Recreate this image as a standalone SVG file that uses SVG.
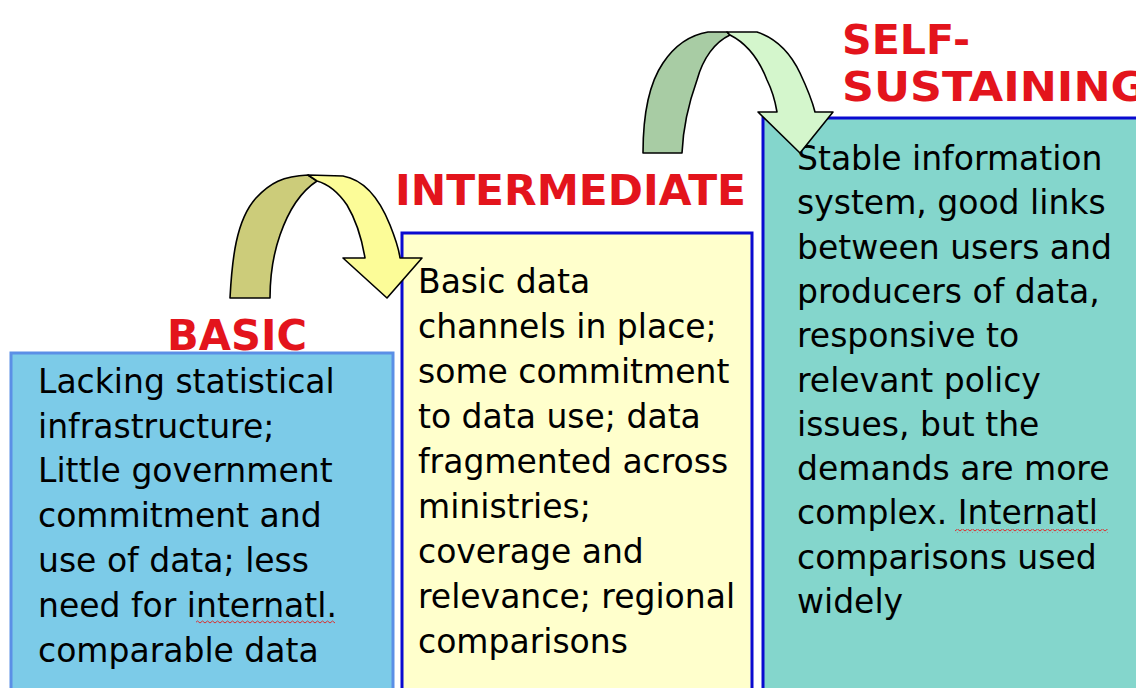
<svg xmlns="http://www.w3.org/2000/svg" width="1136" height="688" viewBox="0 0 1136 688">
<defs>
<style>
.body{font-family:"DejaVu Sans","Liberation Sans",sans-serif;font-size:33px;fill:#000}
.lbl{font-family:"DejaVu Sans","Liberation Sans",sans-serif;font-weight:bold;font-size:43px;fill:#e3141c}
.lbl2{font-family:"DejaVu Sans","Liberation Sans",sans-serif;font-weight:bold;font-size:40px;fill:#e3141c}
.arw{stroke:#000;stroke-width:1.6;stroke-linejoin:round}
</style>
<pattern id="sq" width="5" height="4" patternUnits="userSpaceOnUse"><path d="M0,3 L2.5,1 L5,3" stroke="#d83030" fill="none" stroke-width="1"/></pattern>
</defs>
<rect width="1136" height="688" fill="#ffffff"/>
<g id="basic">
<rect x="11" y="353" width="382" height="350" fill="#7ccbe8" stroke="#5b8fe6" stroke-width="3"/>
<text class="lbl" x="167" y="350" textLength="140" lengthAdjust="spacingAndGlyphs">BASIC</text>
<text class="body">
<tspan x="38" y="393">Lacking statistical</tspan>
<tspan x="38" y="438">infrastructure;</tspan>
<tspan x="38" y="482">Little government</tspan>
<tspan x="38" y="527">commitment and</tspan>
<tspan x="38" y="572">use of data; less</tspan>
<tspan x="38" y="617">need for internatl.</tspan>
<tspan x="38" y="662">comparable data</tspan>
</text>
<rect x="196" y="620" width="139" height="4" fill="url(#sq)"/>
</g>
<g id="intermediate">
<rect x="402" y="233" width="350" height="470" fill="#ffffcc" stroke="#0a0ad0" stroke-width="3"/>
<text class="lbl" x="395" y="205" textLength="351" lengthAdjust="spacingAndGlyphs">INTERMEDIATE</text>
<text class="body">
<tspan x="418" y="293">Basic data</tspan>
<tspan x="418" y="338">channels in place;</tspan>
<tspan x="418" y="383">some commitment</tspan>
<tspan x="418" y="428">to data use; data</tspan>
<tspan x="418" y="473">fragmented across</tspan>
<tspan x="418" y="518">ministries;</tspan>
<tspan x="418" y="563">coverage and</tspan>
<tspan x="418" y="608">relevance; regional</tspan>
<tspan x="418" y="653">comparisons</tspan>
</text>
</g>
<g id="self-sustaining">
<rect x="763" y="118" width="390" height="590" fill="#84d6cc" stroke="#0a0ad0" stroke-width="3"/>
<text class="lbl2" x="842" y="54" textLength="128" lengthAdjust="spacingAndGlyphs">SELF-</text>
<text class="lbl2" x="842" y="101" textLength="305" lengthAdjust="spacingAndGlyphs">SUSTAINING</text>
<text class="body">
<tspan x="797" y="170">Stable information</tspan>
<tspan x="797" y="214">system, good links</tspan>
<tspan x="797" y="259">between users and</tspan>
<tspan x="797" y="303">producers of data,</tspan>
<tspan x="797" y="347">responsive to</tspan>
<tspan x="797" y="392">relevant policy</tspan>
<tspan x="797" y="436">issues, but the</tspan>
<tspan x="797" y="480">demands are more</tspan>
<tspan x="797" y="524">complex. Internatl</tspan>
<tspan x="797" y="569">comparisons used</tspan>
<tspan x="797" y="613">widely</tspan>
</text>
<rect x="955" y="529" width="153" height="4" fill="url(#sq)"/>
</g>
<g id="connectors">
<g id="arrow1">
<path class="arw" fill="#cccc7a" d="M230,298 C232,260 236,220 256,198 C270,183 283,176 308,175 L317,181 C300,192 288,212 280,235 C273,255 270,278 270,298 Z"/>
<path class="arw" fill="#fcfc98" d="M308,175 L343,176 C365,180 380,200 390,225 C396,240 399,250 400,258 L422,258 L387,298 L343,258 L365,258 C362,240 356,220 347,205 C338,192 328,184 317,181 Z"/>
</g>
<g id="arrow2">
<path class="arw" fill="#a8cca4" d="M643,153 C643,120 648,85 663,63 C675,45 690,35 708,32 L727,32 L730,35 C715,42 703,58 697,80 C688,105 683,130 682,153 Z"/>
<path class="arw" fill="#d4f6cc" d="M727,32 L757,32 C775,38 790,52 800,73 C808,90 812,100 815,112 L833,112 L800,153 L758,112 L777,112 C775,100 771,88 767,80 C760,62 748,44 730,35 Z"/>
</g>
</g>
</svg>
